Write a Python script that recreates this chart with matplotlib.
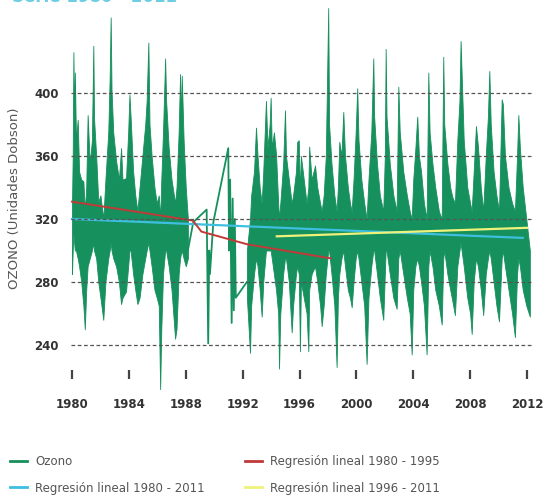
import matplotlib
matplotlib.use("Agg")
import matplotlib.pyplot as plt
from matplotlib.lines import Line2D

# ---------------- data ----------------
# dense segment 1980 - early 1988: time, upper envelope, lower envelope (DU)
t_dense1 = [1980.00, 1980.05, 1980.10, 1980.15, 1980.20, 1980.28, 1980.40, 1980.50, 1980.65, 1980.80,
            1980.90, 1981.00, 1981.10, 1981.25, 1981.40, 1981.50, 1981.55, 1981.70, 1981.85, 1982.00,
            1982.20, 1982.35, 1982.55, 1982.65, 1982.72, 1982.78, 1982.90, 1983.10, 1983.30, 1983.45,
            1983.55, 1983.80, 1983.95, 1984.04, 1984.12, 1984.30, 1984.45, 1984.60, 1984.75, 1984.95,
            1985.15, 1985.25, 1985.37, 1985.45, 1985.60, 1985.80, 1985.96, 1986.10, 1986.20, 1986.28,
            1986.40, 1986.55, 1986.62, 1986.80, 1987.00, 1987.25, 1987.35, 1987.50, 1987.60, 1987.66,
            1987.72, 1987.85, 1988.00, 1988.15]
hi_dense1 = [330, 360, 426, 380, 413, 370, 383, 350, 345, 344,
             325, 340, 386, 355, 370, 430, 384, 360, 331, 335,
             320, 345, 375, 410, 448, 402, 375, 357, 345, 365,
             345, 346, 375, 399, 385, 350, 335, 325, 340, 360,
             380, 395, 432, 380, 360, 340, 330, 335, 320, 345,
             375, 422, 395, 365, 345, 330, 340, 375, 412, 380,
             411, 370, 340, 320]
lo_dense1 = [285, 300, 310, 305, 300, 300, 295, 290, 280, 265,
             250, 275, 290, 295, 300, 305, 300, 295, 280, 270,
             256, 280, 295, 300, 305, 300, 295, 290, 280, 266,
             270, 274, 290, 300, 300, 285, 275, 266, 270, 285,
             295, 300, 305, 300, 290, 275, 270, 265, 212, 250,
             285, 300, 300, 290, 275, 244, 250, 285, 295, 298,
             300, 295, 290, 295]

# sparse records 1988 - 1992
t_sparse = [1988.15, 1988.53, 1989.47, 1989.58, 1989.65, 1989.70, 1989.94, 1990.99, 1991.05,
            1991.12, 1991.23, 1991.30, 1991.38, 1991.45, 1991.52, 1992.30]
v_sparse = [300, 318, 326, 241, 300, 285, 318, 365, 300,
            345, 254, 333, 262, 320, 270, 280]

# dense segment 1992 - 2012
t_dense2 = [1992.30, 1992.52, 1992.60, 1992.80, 1992.94, 1993.05, 1993.20, 1993.34, 1993.45, 1993.64,
            1993.75, 1993.90, 1993.97, 1994.05, 1994.20, 1994.35, 1994.50, 1994.56, 1994.65, 1994.85,
            1994.98, 1995.05, 1995.25, 1995.45, 1995.55, 1995.75, 1995.84, 1995.95, 1996.03, 1996.10,
            1996.30, 1996.50, 1996.62, 1996.68, 1996.85, 1997.09, 1997.25, 1997.45, 1997.56, 1997.70,
            1997.85, 1998.02, 1998.08, 1998.25, 1998.45, 1998.61, 1998.70, 1998.80, 1998.95, 1999.08,
            1999.20, 1999.40, 1999.55, 1999.67, 1999.80, 1999.95, 2000.06, 2000.15, 2000.35, 2000.55,
            2000.72, 2000.85, 2001.05, 2001.19, 2001.25, 2001.45, 2001.65, 2001.89, 2002.00, 2002.06,
            2002.12, 2002.35, 2002.60, 2002.83, 2002.95, 2003.05, 2003.30, 2003.55, 2003.75, 2003.89,
            2004.00, 2004.15, 2004.28, 2004.40, 2004.55, 2004.75, 2004.94, 2005.06, 2005.15, 2005.35,
            2005.55, 2005.80, 2006.00, 2006.11, 2006.18, 2006.40, 2006.60, 2006.75, 2006.93, 2007.10,
            2007.25, 2007.33, 2007.40, 2007.55, 2007.80, 2008.00, 2008.11, 2008.25, 2008.41, 2008.55,
            2008.75, 2008.92, 2009.10, 2009.25, 2009.35, 2009.45, 2009.65, 2009.85, 2010.03, 2010.22,
            2010.30, 2010.45, 2010.70, 2010.95, 2011.15, 2011.30, 2011.39, 2011.50, 2011.70, 2011.95,
            2012.20]
hi_dense2 = [300, 320, 335, 350, 378, 360, 340, 330, 350, 395,
             365, 380, 397, 365, 375, 361, 330, 320, 330, 355,
             389, 360, 345, 330, 335, 350, 369, 370, 335, 360,
             345, 330, 340, 366, 345, 354, 340, 330, 325, 335,
             360, 454, 380, 355, 335, 325, 340, 369, 360, 388,
             360, 340, 330, 325, 345, 375, 403, 370, 345, 330,
             320, 345, 375, 422, 385, 355, 335, 325, 360, 428,
             385, 355, 335, 325, 404, 375, 350, 335, 325, 320,
             345, 365, 385, 360, 350, 330, 320, 413, 375, 355,
             340, 325, 320, 423, 380, 355, 340, 334, 330, 370,
             395, 433, 413, 370, 340, 330, 325, 350, 379, 366,
             340, 325, 360, 385, 414, 380, 350, 335, 325, 396,
             393, 360, 340, 330, 325, 360, 386, 365, 340, 320,
             300]
lo_dense2 = [270, 235, 265, 285, 295, 290, 275, 258, 280, 300,
             300, 300, 300, 295, 285, 275, 260, 225, 260, 285,
             295, 295, 280, 248, 265, 285, 290, 285, 236, 280,
             270, 260, 236, 275, 285, 290, 280, 265, 252, 265,
             285, 300, 300, 285, 265, 226, 270, 285, 295, 300,
             290, 275, 270, 264, 280, 295, 300, 295, 280, 265,
             228, 270, 290, 300, 300, 285, 270, 256, 285, 300,
             300, 285, 270, 263, 295, 300, 285, 270, 260, 234,
             275, 290, 295, 290, 280, 265, 234, 290, 300, 290,
             275, 265, 253, 295, 300, 285, 275, 268, 259, 290,
             300, 305, 300, 290, 270, 260, 247, 280, 295, 290,
             275, 259, 285, 295, 300, 295, 280, 265, 255, 295,
             300, 290, 275, 260, 245, 285, 295, 290, 275, 265,
             258]

# linear regressions (as drawn)
reg_8011_x = [1980.0, 2011.7]
reg_8011_y = [320, 308]
reg_8095_x = [1980.0, 1988.5, 1989.1, 1992.3, 1998.2]
reg_8095_y = [331, 319, 312, 304, 295]
reg_9611_x = [1994.4, 2012.0]
reg_9611_y = [309, 314.4]

y_ticks = [240, 280, 320, 360, 400]
x_ticks = [1980, 1984, 1988, 1992, 1996, 2000, 2004, 2008, 2012]

labels = ["Ozono", "Regresión lineal 1980 - 2011",
          "Regresión lineal 1980 - 1995", "Regresión lineal 1996 - 2011"]

# ---------------- style ----------------
GREEN = "#16905d"
CYAN = "#3fbfe0"
RED = "#c03a38"
YELLOW = "#eef27a"
plt.rcParams['font.family'] = ['DejaVu Sans']

W, H = 550, 498
fig = plt.figure(figsize=(W / 100, H / 100), dpi=100)

left_px, right_px, top_px, bottom_px = 66, 540, 0, 392
ax = fig.add_axes([left_px / W, 1 - bottom_px / H,
                   (right_px - left_px) / W, (bottom_px - top_px) / H])

px_per_year = (527 - 72) / 32.0
ax.set_xlim(1980 - (72 - left_px) / px_per_year, 1980 + (right_px - 72) / px_per_year)
px_per_du = (345 - 93) / 160.0
ax.set_ylim(400 - (bottom_px - 93) / px_per_du, 400 + (93 - top_px) / px_per_du)

# ozone series
ax.fill_between(t_dense1, lo_dense1, hi_dense1, color=GREEN, lw=0.6, zorder=2)
ax.fill_between(t_dense2, lo_dense2, hi_dense2, color=GREEN, lw=0.6, zorder=2)
ax.plot(t_sparse, v_sparse, color=GREEN, lw=1.3, zorder=2)

# regressions
ax.plot(reg_8011_x, reg_8011_y, color=CYAN, lw=1.6, zorder=3)
ax.plot(reg_8095_x, reg_8095_y, color=RED, lw=1.4, zorder=3)
ax.plot(reg_9611_x, reg_9611_y, color=YELLOW, lw=1.6, zorder=3)

# gridlines
ax.hlines(y_ticks, 1979.95, 2012.4, colors="#555555", linestyles=(0, (3, 2)),
          lw=0.9, zorder=4)

for s in ['left', 'right', 'top']:
    ax.spines[s].set_visible(False)
ax.spines['bottom'].set_position(('data', 218.5))
ax.spines['bottom'].set_color('none')

ax.set_yticks(y_ticks)
ax.set_yticklabels([str(v) for v in y_ticks], fontsize=8.5, fontweight='bold', color='#333333')
ax.tick_params(axis='y', length=0, pad=5)
ax.set_xticks(x_ticks)
ax.set_xticklabels([str(v) for v in x_ticks], fontsize=8.5, fontweight='bold', color='#333333')
ax.tick_params(axis='x', direction='in', length=6.5, width=1.6, color='#444444', pad=13.5)

fig.text(15 / W, 1 - 198 / H, "OZONO (Unidades Dobson)", rotation=90, ha='center', va='center',
         fontsize=9.5, color='#555555')

# partially visible title at the top edge (cut off in the reference too)
fig.text(12 / W, 1 - 2.5 / H, "Serie 1980 - 2011", fontsize=12, fontweight='bold',
         color='#6ccde3', ha='left', va='baseline')

# legends
h_oz = Line2D([], [], color=GREEN, lw=2)
h_8011 = Line2D([], [], color=CYAN, lw=2)
h_8095 = Line2D([], [], color=RED, lw=2)
h_9611 = Line2D([], [], color=YELLOW, lw=2)
common = dict(frameon=False, fontsize=8.5, handlelength=1.45, handletextpad=0.7,
              labelspacing=1.15, borderpad=0, borderaxespad=0, labelcolor='#555555',
              loc='upper left')
fig.legend([h_oz, h_8011], labels[:2], bbox_to_anchor=(10 / W, 1 - 455 / H), **common)
fig.legend([h_8095, h_9611], labels[2:], bbox_to_anchor=(245 / W, 1 - 455 / H), **common)

fig.savefig("out.png", dpi=100)
